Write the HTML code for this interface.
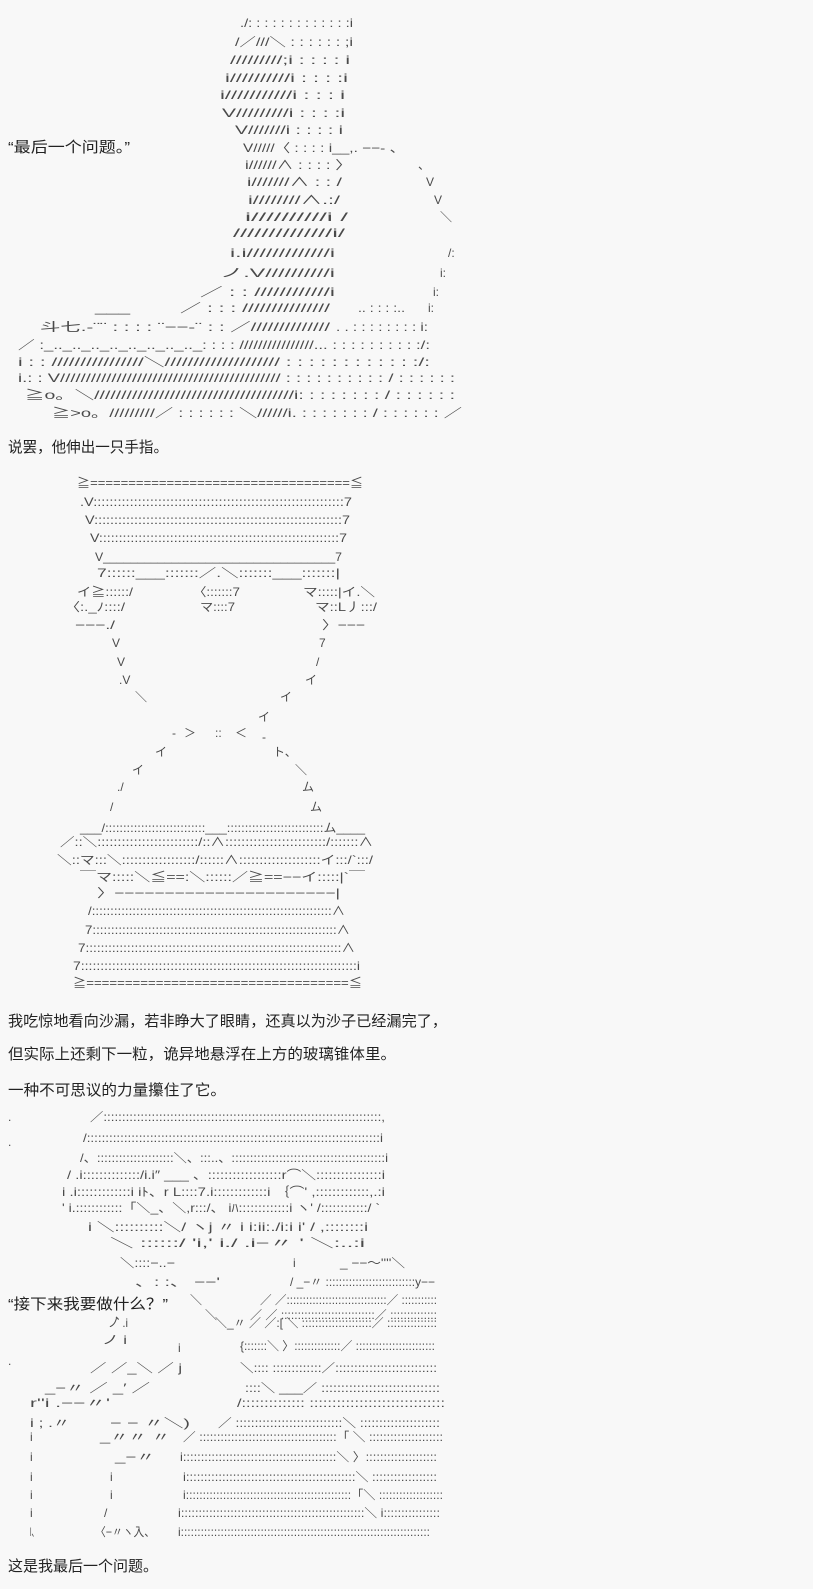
<!DOCTYPE html>
<html><head><meta charset="utf-8"><style>
html,body{margin:0;padding:0;background:#f8f8f8;}
svg{display:block}
.a{font-family:"Liberation Sans","Noto Sans CJK JP",sans-serif;font-size:12px;fill:#4a4a4a;white-space:pre}
.p{font-family:"Liberation Sans","Noto Sans CJK SC",sans-serif;font-size:15px;fill:#222}
</style></head><body>
<svg width="813" height="1589" viewBox="0 0 813 1589" xmlns="http://www.w3.org/2000/svg">
<rect width="813" height="1589" fill="#f8f8f8"/>
<!-- prose -->
<text class="p" x="8" y="152" textLength="122" lengthAdjust="spacingAndGlyphs">“最后一个问题。”</text>
<text class="p" x="8" y="452" textLength="160" lengthAdjust="spacingAndGlyphs">说罢，他伸出一只手指。</text>
<text class="p" x="8" y="1026" textLength="439" lengthAdjust="spacingAndGlyphs">我吃惊地看向沙漏，若非睁大了眼睛，还真以为沙子已经漏完了，</text>
<text class="p" x="8" y="1059" textLength="388" lengthAdjust="spacingAndGlyphs">但实际上还剩下一粒，诡异地悬浮在上方的玻璃锥体里。</text>
<text class="p" x="8" y="1095" textLength="218" lengthAdjust="spacingAndGlyphs">一种不可思议的力量攥住了它。</text>
<text class="p" x="8" y="1309" textLength="160" lengthAdjust="spacingAndGlyphs">“接下来我要做什么？”</text>
<text class="p" x="8" y="1571" textLength="150" lengthAdjust="spacingAndGlyphs">这是我最后一个问题。</text>

<!-- section 1 -->
<g class="a">
<text x="240" y="27" textLength="113" lengthAdjust="spacingAndGlyphs">./: : : : : : : : : : : : :i</text>
<text x="235" y="46" textLength="118" lengthAdjust="spacingAndGlyphs">/／///＼ : : : : : : ;i</text>
<text x="230" y="64" textLength="120" lengthAdjust="spacingAndGlyphs">/////////;i : : : : i</text>
<text x="225" y="82" textLength="123" lengthAdjust="spacingAndGlyphs">i//////////i : : : :i</text>
<text x="220" y="99" textLength="125" lengthAdjust="spacingAndGlyphs">i///////////i : : : i</text>
<text x="222" y="117" textLength="123" lengthAdjust="spacingAndGlyphs">V/////////i : : : :i</text>
<text x="235" y="134" textLength="108" lengthAdjust="spacingAndGlyphs">V///////i : : : : i</text>
<text x="243" y="152" textLength="162" lengthAdjust="spacingAndGlyphs">V/////〈 : : : : i__,. −−- 、</text>
<text x="245" y="169" textLength="107" lengthAdjust="spacingAndGlyphs">i//////∧ : : : : 〉</text><text x="418" y="169">、</text>
<text x="247" y="186" textLength="95" lengthAdjust="spacingAndGlyphs">i///////∧ : : /</text><text x="426" y="186">V</text>
<text x="248" y="204" textLength="92" lengthAdjust="spacingAndGlyphs">i////////∧.:/</text><text x="434" y="204">V</text>
<text x="245" y="221" textLength="103" lengthAdjust="spacingAndGlyphs">i//////////i /</text><text x="440" y="221">＼</text>
<text x="233" y="237" textLength="112" lengthAdjust="spacingAndGlyphs">//////////////i/</text>
<text x="230" y="257" textLength="105" lengthAdjust="spacingAndGlyphs">i.i/////////////i</text><text x="448" y="257">/:</text>
<text x="220" y="277" textLength="115" lengthAdjust="spacingAndGlyphs">ノ.V//////////i</text><text x="440" y="277">i:</text>
<text x="200" y="296" textLength="135" lengthAdjust="spacingAndGlyphs">／  : : ////////////i</text><text x="433" y="296">i:</text>
<text x="95" y="312" textLength="35" lengthAdjust="spacingAndGlyphs">___</text>
<text x="180" y="312" textLength="150" lengthAdjust="spacingAndGlyphs">／ : : : ///////////////</text>
<text x="358" y="312" textLength="47" lengthAdjust="spacingAndGlyphs">.. : : : :..</text><text x="428" y="312">i:</text>
<text x="40" y="331" textLength="290" lengthAdjust="spacingAndGlyphs">斗七.-¨¨    : : : :   ¨−−-¨   : : ／//////////////</text>
<text x="336" y="331" textLength="92" lengthAdjust="spacingAndGlyphs">. . : : : : : : : : i:</text>
<text x="18" y="349" textLength="412" lengthAdjust="spacingAndGlyphs">／ :_.._.._.._.._.._.._.._.._: : : : ////////////////... : : : : : : : : : :/:</text>
<text x="18" y="366" textLength="412" lengthAdjust="spacingAndGlyphs">i : : ////////////////＼//////////////////// : : : : : : : : : : : :/:</text>
<text x="18" y="382" textLength="437" lengthAdjust="spacingAndGlyphs">i.: : V/////////////////////////////////////////// : : : : : : : : : : / : : : : : :</text>
<text x="25" y="399" textLength="430" lengthAdjust="spacingAndGlyphs">≧o。＼/////////////////////////////////////i: : : : : : : : / : : : : : :</text>
<text x="52" y="417" textLength="410" lengthAdjust="spacingAndGlyphs">≧>o。/////////／  : : : : : :  ＼//////i.  : : : : : : : / : : : : : : ／</text>
</g>

<!-- section 2 -->
<g class="a">
<text x="77" y="487" textLength="286" lengthAdjust="spacingAndGlyphs">≧==================================≦</text>
<text x="80" y="506" textLength="272" lengthAdjust="spacingAndGlyphs">.V::::::::::::::::::::::::::::::::::::::::::::::::::::::::::::::7</text>
<text x="85" y="524" textLength="265" lengthAdjust="spacingAndGlyphs">V::::::::::::::::::::::::::::::::::::::::::::::::::::::::::::::7</text>
<text x="90" y="542" textLength="257" lengthAdjust="spacingAndGlyphs">V:::::::::::::::::::::::::::::::::::::::::::::::::::::::::::::7</text>
<text x="95" y="561" textLength="247" lengthAdjust="spacingAndGlyphs">V__________________________________7</text>
<text x="97" y="577" textLength="243" lengthAdjust="spacingAndGlyphs">7::::::___:::::::／.＼:::::::___:::::::|</text>
<text x="77" y="596" textLength="56" lengthAdjust="spacingAndGlyphs">イ≧::::::/</text>
<text x="193" y="596" textLength="47" lengthAdjust="spacingAndGlyphs">〈:::::::7</text>
<text x="303" y="596" textLength="72" lengthAdjust="spacingAndGlyphs">マ:::::|イ.＼</text>
<text x="65" y="611" textLength="60" lengthAdjust="spacingAndGlyphs">〈:._ﾉ::::/</text>
<text x="200" y="611" textLength="35" lengthAdjust="spacingAndGlyphs">マ::::7</text>
<text x="315" y="611" textLength="62" lengthAdjust="spacingAndGlyphs">マ::L丿:::/</text>
<text x="75" y="629" textLength="40" lengthAdjust="spacingAndGlyphs">−−−./</text>
<text x="322" y="629" textLength="43" lengthAdjust="spacingAndGlyphs">〉−−−</text>
<text x="112" y="647">V</text><text x="319" y="647">7</text>
<text x="117" y="666">V</text><text x="316" y="666">/</text>
<text x="119" y="684">.V</text><text x="305" y="684">イ</text>
<text x="135" y="701">＼</text><text x="280" y="701">イ</text>
<text x="258" y="721">イ</text>
<text x="172" y="737">-</text><text x="184" y="737">＞</text><text x="215" y="737">::</text><text x="235" y="737">＜</text><text x="262" y="741">-</text>
<text x="155" y="756">イ</text><text x="273" y="756">ト、</text>
<text x="132" y="774">イ</text><text x="295" y="774">＼</text>
<text x="117" y="791">./</text><text x="302" y="791">ム</text>
<text x="110" y="811">/</text><text x="310" y="811">ム</text>
<text x="80" y="832" textLength="285" lengthAdjust="spacingAndGlyphs">___/::::::::::::::::::::::::::::___:::::::::::::::::::::::::::ム____</text>
<text x="60" y="846" textLength="313" lengthAdjust="spacingAndGlyphs">／::＼:::::::::::::::::::::::::/::∧:::::::::::::::::::::::::/:::::::∧</text>
<text x="57" y="864" textLength="316" lengthAdjust="spacingAndGlyphs">＼::マ:::＼::::::::::::::::::/::::::∧::::::::::::::::::::イ:::/`:::/</text>
<text x="80" y="881" textLength="285" lengthAdjust="spacingAndGlyphs">￣マ:::::＼≦==:＼::::::／≧==−−イ:::::|`￣</text>
<text x="97" y="897" textLength="243" lengthAdjust="spacingAndGlyphs">〉−−−−−−−−−−−−−−−−−−−−−−|</text>
<text x="88" y="915" textLength="257" lengthAdjust="spacingAndGlyphs">/:::::::::::::::::::::::::::::::::::::::::::::::::::::::::::::::::∧</text>
<text x="85" y="934" textLength="265" lengthAdjust="spacingAndGlyphs">7::::::::::::::::::::::::::::::::::::::::::::::::::::::::::::::::::∧</text>
<text x="78" y="952" textLength="277" lengthAdjust="spacingAndGlyphs">7::::::::::::::::::::::::::::::::::::::::::::::::::::::::::::::::::::∧</text>
<text x="73" y="970" textLength="287" lengthAdjust="spacingAndGlyphs">7:::::::::::::::::::::::::::::::::::::::::::::::::::::::::::::::::::::::i</text>
<text x="73" y="987" textLength="289" lengthAdjust="spacingAndGlyphs">≧==================================≦</text>
</g>

<!-- section 3 -->
<g class="a">
<text x="8" y="1121">.</text><text x="8" y="1146">.</text>
<text x="90" y="1121" textLength="295" lengthAdjust="spacingAndGlyphs">／:::::::::::::::::::::::::::::::::::::::::::::::::::::::::::::::::::::::::::,</text>
<text x="83" y="1142" textLength="300" lengthAdjust="spacingAndGlyphs">/:::::::::::::::::::::::::::::::::::::::::::::::::::::::::::::::::::::::::::::::i</text>
<text x="80" y="1162" textLength="308" lengthAdjust="spacingAndGlyphs">/、:::::::::::::::::::::＼、:::..、::::::::::::::::::::::::::::::::::::::::::i</text>
<text x="67" y="1179" textLength="318" lengthAdjust="spacingAndGlyphs">/ .i::::::::::::::/i.i″  ___ 、::::::::::::::::::r⌒＼::::::::::::::::i</text>
<text x="62" y="1196" textLength="323" lengthAdjust="spacingAndGlyphs">i  .i:::::::::::::i iﾄ、r  L::::7.i:::::::::::::i  ｛⌒'  ,:::::::::::::,.:i</text>
<text x="62" y="1212" textLength="318" lengthAdjust="spacingAndGlyphs">'   i.::::::::::::「＼_、＼,r:::/、 iﾊ:::::::::::::i  ヽ'  /::::::::::::/ `</text>
<text x="88" y="1231" textLength="280" lengthAdjust="spacingAndGlyphs">i ＼::::::::::＼/   ヽj  〃      i  i:ii:./i:i   i'  / ,::::::::i</text>
<text x="110" y="1247" textLength="255" lengthAdjust="spacingAndGlyphs">＼ ::::::/             'i,' i./   .i−〃 '  ＼:..:i</text>
<text x="120" y="1267" textLength="55" lengthAdjust="spacingAndGlyphs">＼::::−..−</text>
<text x="293" y="1267">i</text>
<text x="340" y="1267" textLength="65" lengthAdjust="spacingAndGlyphs">_ −−〜''''＼</text>
<text x="135" y="1286" textLength="85" lengthAdjust="spacingAndGlyphs">、: :、   −−'</text>
<text x="290" y="1286" textLength="145" lengthAdjust="spacingAndGlyphs">/  _−〃 :::::::::::::::::::::::::::y−−</text>
<text x="190" y="1304">＼</text>
<text x="260" y="1304" textLength="177" lengthAdjust="spacingAndGlyphs">／ ／:::::::::::::::::::::::::::::::／ :::::::::::</text>
<text x="115" y="1319">、</text><text x="205" y="1319">＼</text>
<text x="250" y="1319" textLength="187" lengthAdjust="spacingAndGlyphs">／ ／ ::::::::::::::::::::::::::::／ ::::::::::::::</text>
<text x="108" y="1327" textLength="20" lengthAdjust="spacingAndGlyphs">ノ .i</text>
<text x="215" y="1327" textLength="222" lengthAdjust="spacingAndGlyphs">＼_〃 ／ ／:[ ＼  :::::::::::::::::::::／ :::::::::::::::</text>
<text x="102" y="1344" textLength="25" lengthAdjust="spacingAndGlyphs">ノ   i</text>
<text x="240" y="1350" textLength="195" lengthAdjust="spacingAndGlyphs">{:::::::＼ 〉::::::::::::::／ ::::::::::::::::::::::::</text>
<text x="178" y="1352">i</text>
<text x="8" y="1365">.</text>
<text x="90" y="1372" textLength="92" lengthAdjust="spacingAndGlyphs">／  ／_＼ ／ j</text>
<text x="240" y="1372" textLength="197" lengthAdjust="spacingAndGlyphs">＼::::  :::::::::::::／:::::::::::::::::::::::::::</text>
<text x="45" y="1392" textLength="105" lengthAdjust="spacingAndGlyphs">_−〃   ／   _′ ／</text>
<text x="245" y="1392" textLength="195" lengthAdjust="spacingAndGlyphs">::::＼ ___／ ::::::::::::::::::::::::::::::</text>
<text x="30" y="1407" textLength="80" lengthAdjust="spacingAndGlyphs">r''i   .−−〃'</text>
<text x="237" y="1407" textLength="208" lengthAdjust="spacingAndGlyphs">/::::::::::::::    ::::::::::::::::::::::::::::::</text>
<text x="30" y="1427" textLength="40" lengthAdjust="spacingAndGlyphs">i ;   .〃</text>
<text x="110" y="1427" textLength="80" lengthAdjust="spacingAndGlyphs">−   −   〃＼)</text>
<text x="218" y="1427" textLength="222" lengthAdjust="spacingAndGlyphs">／ ::::::::::::::::::::::::::::＼ :::::::::::::::::::::</text>
<text x="30" y="1441">i</text>
<text x="100" y="1441" textLength="70" lengthAdjust="spacingAndGlyphs">_〃〃  〃</text>
<text x="183" y="1441" textLength="260" lengthAdjust="spacingAndGlyphs">／ :::::::::::::::::::::::::::::::::::::::「 ＼ :::::::::::::::::::::</text>
<text x="30" y="1461">i</text>
<text x="115" y="1461" textLength="40" lengthAdjust="spacingAndGlyphs">_−〃</text>
<text x="180" y="1461" textLength="257" lengthAdjust="spacingAndGlyphs">i:::::::::::::::::::::::::::::::::::::::::::＼ 〉::::::::::::::::::::</text>
<text x="30" y="1481">i</text><text x="110" y="1481">i</text>
<text x="183" y="1481" textLength="254" lengthAdjust="spacingAndGlyphs">i:::::::::::::::::::::::::::::::::::::::::::::::＼ ::::::::::::::::::</text>
<text x="30" y="1499">i</text><text x="110" y="1499">i</text>
<text x="183" y="1499" textLength="260" lengthAdjust="spacingAndGlyphs">i:::::::::::::::::::::::::::::::::::::::::::::::::「＼ :::::::::::::::::::</text>
<text x="30" y="1517">i</text><text x="104" y="1517">/</text>
<text x="178" y="1517" textLength="262" lengthAdjust="spacingAndGlyphs">i::::::::::::::::::::::::::::::::::::::::::::::::::::＼ i::::::::::::::::</text>
<text x="30" y="1536" textLength="8" lengthAdjust="spacingAndGlyphs">l、</text>
<text x="95" y="1536" textLength="60" lengthAdjust="spacingAndGlyphs">〈−〃ヽ入、</text>
<text x="178" y="1536" textLength="252" lengthAdjust="spacingAndGlyphs">i:::::::::::::::::::::::::::::::::::::::::::::::::::::::::::::::::::::::::::</text>
</g>
</svg>
</body></html>
